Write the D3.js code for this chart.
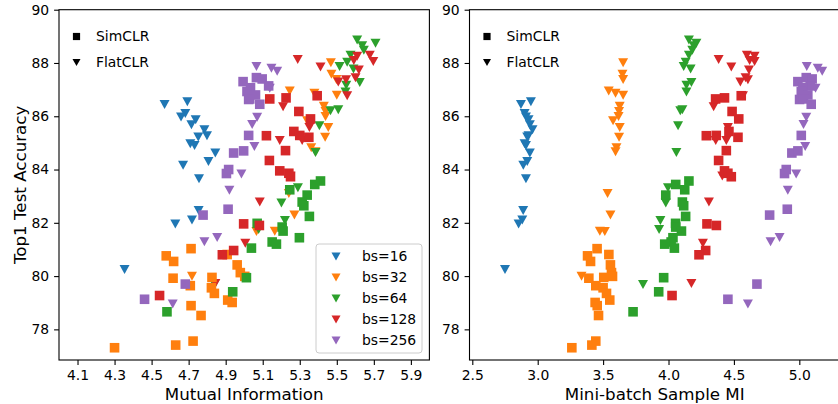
<!DOCTYPE html>
<html>
<head>
<meta charset="utf-8">
<script src="https://cdn.jsdelivr.net/npm/d3@7"></script>
<style>
  body { margin: 0; background: #fff; }
  svg { font-family: "DejaVu Sans", sans-serif; }
</style>
</head>
<body>
<svg id="chart" width="838" height="404"></svg>
<script>
// each point: [top1 test accuracy, mutual information, mini-batch sample MI]
const batchSizes = [16, 32, 64, 128, 256]
const colors = ['#1f77b4', '#ff7f0e', '#2ca02c', '#d62728', '#9467bd']

const flat16 = [
  [86.44, 4.570, 2.872], [86.54, 4.693, 2.948], [86.10, 4.682, 2.900], [85.97, 4.659, 2.910],
  [85.87, 4.738, 2.930], [85.68, 4.715, 2.940], [85.49, 4.785, 2.960], [85.27, 4.799, 2.930],
  [85.22, 4.752, 2.920], [84.97, 4.709, 2.900], [84.90, 4.732, 2.910], [84.62, 4.844, 2.940],
  [84.30, 4.807, 2.920], [84.16, 4.670, 2.890], [83.65, 4.756, 2.910], [82.46, 4.754, 2.889],
  [82.11, 4.718, 2.882], [81.96, 4.628, 2.854], [80.25, 4.354, 2.750]
]
const flat32 = [
  [88.01, 5.468, 3.653], [87.58, 5.471, 3.648], [87.38, 5.498, 3.653], [86.95, 5.246, 3.543],
  [86.86, 5.379, 3.595], [86.79, 5.500, 3.653], [86.38, 5.430, 3.627], [86.18, 5.439, 3.622],
  [85.99, 5.439, 3.618], [85.83, 5.340, 3.576], [85.58, 5.454, 3.627], [85.21, 5.437, 3.622],
  [84.82, 5.362, 3.602], [84.67, 5.385, 3.595], [83.10, 5.241, 3.534], [82.29, 5.271, 3.556],
  [81.68, 5.165, 3.475], [81.67, 5.066, 3.513], [79.99, 4.718, 3.335]
]
const flat64 = [
  [88.86, 5.610, 4.156], [88.74, 5.709, 4.213], [88.65, 5.637, 4.192], [88.48, 5.646, 4.182],
  [88.29, 5.574, 4.156], [88.03, 5.556, 4.131], [87.87, 5.515, 4.116], [87.77, 5.590, 4.169],
  [87.27, 5.624, 4.175], [87.16, 5.551, 4.137], [86.91, 5.547, 4.137], [86.24, 5.508, 4.106],
  [86.21, 5.466, 4.090], [85.64, 5.406, 4.073], [84.64, 5.385, 4.060], [83.32, 5.290, 3.996],
  [82.74, 5.201, 3.979], [82.09, 5.220, 3.938], [81.75, 5.078, 3.928], [79.68, 4.840, 3.805]
]
const flat128 = [
  [88.29, 5.678, 4.599], [88.25, 5.610, 4.658], [88.13, 5.289, 4.383], [88.09, 5.592, 4.620],
  [88.06, 5.697, 4.658], [87.85, 5.412, 4.480], [87.74, 5.619, 4.615], [87.45, 5.601, 4.589],
  [87.37, 5.550, 4.607], [87.29, 5.508, 4.549], [86.77, 5.556, 4.569], [86.36, 5.210, 4.345],
  [85.58, 5.352, 4.454], [85.09, 5.192, 4.361], [85.09, 5.313, 4.442], [83.76, 5.250, 4.411],
  [82.78, 5.084, 4.309], [81.23, 5.006, 4.263], [79.72, 4.844, 4.175]
]
const flat256 = [
  [87.87, 5.066, 5.057], [87.80, 5.147, 5.141], [87.69, 5.178, 5.175], [87.05, 5.138, 5.124],
  [85.96, 5.070, 5.053], [85.69, 5.043, 5.032], [84.86, 5.055, 5.045], [83.83, 4.985, 4.976],
  [83.22, 4.920, 4.912], [81.45, 4.854, 4.849], [81.29, 4.785, 4.780], [78.95, 4.614, 4.607]
]

const sim32 = [
  [81.03, 4.713, 3.454], [80.81, 4.908, 3.544], [80.76, 4.579, 3.381], [80.55, 4.619, 3.404],
  [80.42, 4.962, 3.556], [80.13, 4.979, 3.564], [79.99, 5.003, 3.572], [79.95, 4.826, 3.505],
  [79.92, 4.616, 3.391], [79.64, 4.709, 3.444], [79.56, 4.823, 3.500], [79.35, 4.839, 3.526],
  [79.10, 4.911, 3.551], [79.01, 4.935, 3.439], [78.89, 4.713, 3.455], [78.52, 4.767, 3.465],
  [77.56, 4.724, 3.444], [77.41, 4.630, 3.414], [77.31, 4.300, 3.261]
]
const sim64 = [
  [83.57, 5.412, 4.156], [83.44, 5.381, 4.055], [83.24, 5.246, 4.124], [83.04, 5.340, 3.979],
  [82.78, 5.313, 4.106], [82.64, 5.322, 4.116], [82.24, 5.352, 4.131], [81.98, 5.070, 4.054],
  [81.84, 5.205, 4.055], [81.69, 5.210, 4.099], [81.44, 5.298, 4.034], [81.28, 5.151, 4.020],
  [81.20, 5.174, 3.971], [81.05, 5.039, 4.045], [79.94, 5.012, 3.963], [79.41, 4.938, 3.925],
  [78.66, 4.583, 3.729]
]
const sim128 = [
  [86.77, 5.394, 4.556], [86.69, 5.226, 4.428], [86.65, 5.138, 4.360], [86.18, 5.295, 4.486],
  [85.90, 5.358, 4.537], [85.43, 5.268, 4.462], [85.27, 5.120, 4.289], [85.28, 5.300, 4.365],
  [85.21, 5.349, 4.531], [84.71, 5.223, 4.442], [84.34, 5.136, 4.383], [83.95, 5.192, 4.428],
  [83.86, 5.241, 4.454], [83.73, 5.250, 4.480], [81.96, 4.997, 4.294], [81.90, 5.082, 4.366],
  [80.96, 4.943, 4.284], [80.80, 4.882, 4.233], [79.27, 4.543, 4.027]
]
const sim256 = [
  [87.30, 4.994, 4.989], [87.45, 5.066, 5.053], [87.40, 5.097, 5.098], [87.14, 5.132, 5.083],
  [87.07, 5.034, 5.027], [86.93, 5.015, 5.015], [86.80, 5.061, 5.065], [86.63, 5.024, 5.002],
  [86.65, 5.030, 5.032], [86.45, 5.084, 5.091], [85.28, 5.024, 5.015], [84.62, 4.943, 4.943],
  [84.70, 4.997, 4.989], [84.00, 4.916, 4.900], [83.85, 4.904, 4.887], [82.51, 4.913, 4.908],
  [82.29, 4.778, 4.773], [79.70, 4.682, 4.676], [79.13, 4.462, 4.454]
]

// tick labels
const accTicks = [78, 80, 82, 84, 86, 88, 90]
const miTicks = [4.1, 4.3, 4.5, 4.7, 4.9, 5.1, 5.3, 5.5, 5.7, 5.9]
const sampleTicks = [2.5, 3.0, 3.5, 4.0, 4.5, 5.0]

const flatSeries = [flat16, flat32, flat64, flat128, flat256]
const simSeries = [[], sim32, sim64, sim128, sim256]

const svg = d3.select('#chart')

const plotTop = 9.7, plotBottom = 360
const y = d3.scaleLinear().domain([76.85, 90]).range([plotBottom, plotTop])

const squarePath = 'M-4.8,-4.8h9.6v9.6h-9.6z'
const trianglePath = 'M-5,-4.5L5,-4.5L0,4.5Z'

const panels = [
  {x0: 59, x1: 429.4, domain: [4.0, 6.0], ticks: miTicks, col: 1, label: 'Mutual Information', ylabel: true},
  {x0: 469.5, x1: 840, domain: [2.4786, 5.311], ticks: sampleTicks, col: 2, label: 'Mini-batch Sample MI', ylabel: false}
]

panels.forEach(p => {
  const x = d3.scaleLinear().domain(p.domain).range([p.x0, p.x1])
  const g = svg.append('g')

  // x axis
  const xAxis = g.append('g')
    .attr('transform', `translate(0,${plotBottom})`)
    .call(d3.axisBottom(x).tickValues(p.ticks).tickFormat(d3.format('.1f'))
      .tickSize(4.9).tickPadding(4.9).tickSizeOuter(0))
  // y axis
  const yAxis = g.append('g')
    .attr('transform', `translate(${p.x0},0)`)
    .call(d3.axisLeft(y).tickValues(accTicks).tickFormat(d3.format('d'))
      .tickSize(4.9).tickPadding(4.9).tickSizeOuter(0))

  ;[xAxis, yAxis].forEach(a => {
    a.select('.domain').remove()
    a.selectAll('line').attr('stroke', '#000').attr('stroke-width', 1.1)
    a.selectAll('text').attr('fill', '#000').style('font-size', '13.9px')
      .style('font-family', '"DejaVu Sans", sans-serif')
  })

  // points: FlatCLR first, SimCLR after
  flatSeries.forEach((series, i) => {
    g.selectAll(null).data(series).enter()
      .append('path')
      .attr('d', trianglePath)
      .attr('transform', d => `translate(${x(d[p.col])},${y(d[0])})`)
      .attr('fill', colors[i])
  })
  simSeries.forEach((series, i) => {
    g.selectAll(null).data(series).enter()
      .append('path')
      .attr('d', squarePath)
      .attr('transform', d => `translate(${x(d[p.col])},${y(d[0])})`)
      .attr('fill', colors[i])
  })

  // spines
  g.append('rect')
    .attr('x', p.x0).attr('y', plotTop)
    .attr('width', p.x1 - p.x0).attr('height', plotBottom - plotTop)
    .attr('fill', 'none').attr('stroke', '#000').attr('stroke-width', 1.1)

  // method legend
  const methods = [{name: 'SimCLR', d: 'M-3.6,-3.6h7.2v7.2h-7.2z'}, {name: 'FlatCLR', d: 'M-4,-3.6L4,-3.6L0,3.6Z'}]
  methods.forEach((m, i) => {
    g.append('path').attr('d', m.d)
      .attr('transform', `translate(${p.x0 + 17.5},${36.5 + i * 26})`)
      .attr('fill', '#000')
    g.append('text').text(m.name)
      .attr('x', p.x0 + 37).attr('y', 36.5 + i * 26).attr('dy', '0.35em')
      .style('font-size', '13.9px').attr('fill', '#000')
  })

  // axis label
  g.append('text').text(p.label)
    .attr('x', (p.x0 + p.x1) / 2).attr('y', 400)
    .attr('text-anchor', 'middle').style('font-size', '16.7px').attr('fill', '#000')

  if (p.ylabel) {
    g.append('text').text('Top1 Test Accuracy')
      .attr('transform', `translate(26,${(plotTop + plotBottom) / 2}) rotate(-90)`)
      .attr('text-anchor', 'middle').style('font-size', '16.7px').attr('fill', '#000')
  }
})

// batch size legend (left panel)
const leg = svg.append('g')
leg.append('rect')
  .attr('x', 316).attr('y', 244).attr('width', 106).attr('height', 109)
  .attr('rx', 3).attr('fill', '#fff').attr('fill-opacity', 0.8)
  .attr('stroke', '#ccc').attr('stroke-width', 1)
batchSizes.forEach((bs, i) => {
  leg.append('path').attr('d', 'M-4.5,-4L4.5,-4L0,4Z')
    .attr('transform', `translate(336,${256.5 + i * 21})`)
    .attr('fill', colors[i])
  leg.append('text').text('bs=' + bs)
    .attr('x', 362).attr('y', 256.5 + i * 21).attr('dy', '0.35em')
    .style('font-size', '13.9px').attr('fill', '#000')
})
</script>
</body>
</html>
